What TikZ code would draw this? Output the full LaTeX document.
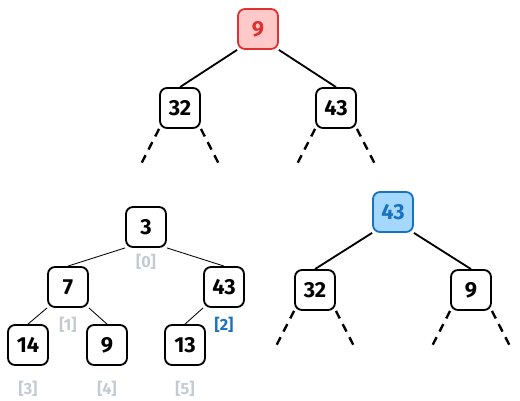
\documentclass[tikz,border=0pt]{standalone}
\usepackage{fontspec}
\setmainfont{Fira Sans}
\usetikzlibrary{positioning}
\definecolor{hotred}{HTML}{E03131}
\definecolor{hotredfill}{HTML}{FFC9C9}
\definecolor{hotblue}{HTML}{1971C2}
\definecolor{hotbluefill}{HTML}{A5D8FF}
\definecolor{idxgray}{HTML}{C3CAD2}

\begin{document}
\begin{tikzpicture}[x=0.025cm, y=-0.025cm,
  key/.style={draw, line width=1.3pt, rounded corners=5pt, fill=white,
              minimum size=1cm, inner sep=0pt, font=\fontsize{15.5}{15.5}\selectfont\bfseries},
  redkey/.style={key, draw=hotred, fill=hotredfill, text=hotred},
  bluekey/.style={key, draw=hotblue, fill=hotbluefill, text=hotblue},
  edge/.style={line width=1.3pt},
  thin edge/.style={line width=0.6pt},
  stub/.style={line width=1.7pt, dash pattern=on 6pt off 4.5pt},
  idx/.style={font=\fontsize{11.5}{11.5}\selectfont\bfseries, text=idxgray}
]
  \useasboundingbox (0,0) rectangle (520,401);

  % top tree: 9 at the root
  \node[redkey] (r9)  at (258, 29) {9};
  \node[key]    (r32) at (180,108) {32};
  \node[key]    (r43) at (336,108) {43};
  \draw[edge] (r9.south west) -- (r32.north);
  \draw[edge] (r9.south east) -- (r43.north);
  \draw[stub] (r32.south west) -- ++(-20,39);
  \draw[stub] (r32.south east) -- ++(20,39);
  \draw[stub] (r43.south west) -- ++(-20,39);
  \draw[stub] (r43.south east) -- ++(20,39);

  % array as a tree
  \node[key] (a0) at (146,227) {3};
  \node[key] (a1) at (68,287)  {7};
  \node[key] (a2) at (224,287) {43};
  \node[key] (a3) at (28,345)  {14};
  \node[key] (a4) at (107,345) {9};
  \node[key] (a5) at (185,345) {13};
  \draw[thin edge] (a0.south west) -- (a1.north);
  \draw[thin edge] (a0.south east) -- (a2.north);
  \draw[thin edge] (a1.south west) -- (a3.north);
  \draw[thin edge] (a1.south east) -- (a4.north);
  \draw[thin edge] (a2.south west) -- (a5.north);
  \node[idx, below=1pt of a0] {[0]};
  \node[idx, below=3pt of a1] {[1]};
  \node[idx, text=hotblue, below=3pt of a2] {[2]};
  \node[idx, below=7pt of a3] {[3]};
  \node[idx, below=7pt of a4] {[4]};
  \node[idx, below=7pt of a5] {[5]};

  % after the swap: 43 at the root
  \node[bluekey] (s43) at (393,212) {43};
  \node[key]     (s32) at (315,290) {32};
  \node[key]     (s9)  at (471,290) {9};
  \draw[edge] (s43.south west) -- (s32.north);
  \draw[edge] (s43.south east) -- (s9.north);
  \draw[stub] (s32.south west) -- ++(-20,39);
  \draw[stub] (s32.south east) -- ++(20,39);
  \draw[stub] (s9.south west) -- ++(-20,39);
  \draw[stub] (s9.south east) -- ++(20,39);

\end{tikzpicture}
\end{document}
